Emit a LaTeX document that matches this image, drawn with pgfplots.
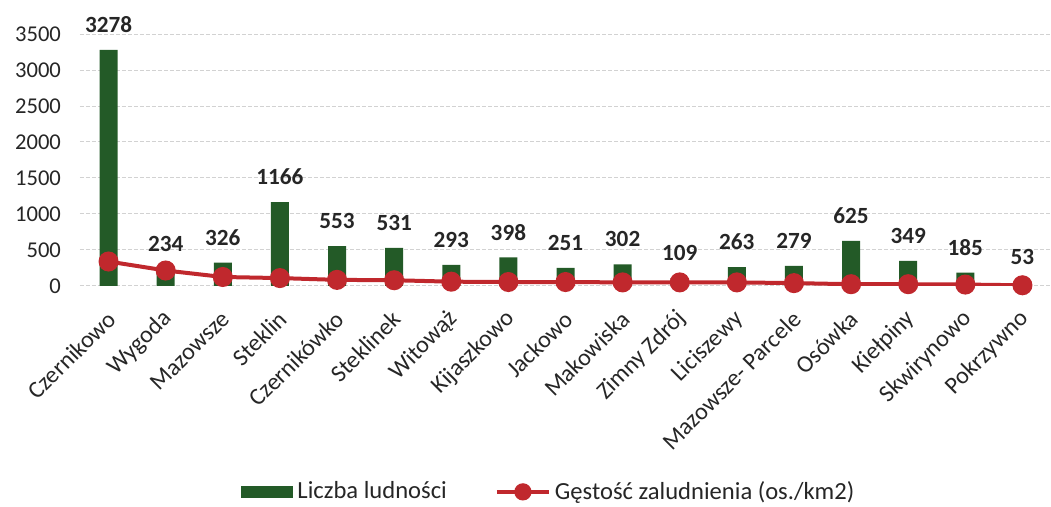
\documentclass[border=0pt]{standalone}
\usepackage{fontspec}
\setmainfont{Carlito}
\usepackage{pgfplots}
\pgfplotsset{compat=1.18}
\definecolor{barg}{HTML}{235A27}
\definecolor{liner}{HTML}{C0282D}
\definecolor{txt}{HTML}{262626}
\begin{document}
\begin{tikzpicture}
\path[use as bounding box] (-40pt,-110.5pt) rectangle (485.5pt,143pt);
\begin{axis}[
  at={(0,0)}, anchor=south west,
  scale only axis, width=485.5pt, height=126pt,
  xmin=-0.5, xmax=16.5, ymin=0, ymax=3500,
  ytick={0,500,...,3500},
  xtick={0,...,16},
  xticklabels={Czernikowo,Wygoda,Mazowsze,Steklin,Czernikówko,Steklinek,Witowąż,Kijaszkowo,Jackowo,Makowiska,Zimny Zdrój,Liciszewy,Mazowsze- Parcele,Osówka,Kiełpiny,Skwirynowo,Pokrzywno},
  axis line style={draw=none},
  major tick length=0pt,
  ymajorgrids, grid style={gray!35, dash pattern=on 2pt off 1pt, line width=0.5pt},
  yticklabel style={font=\fontsize{11.3}{13}\selectfont, text=txt, xshift=-6pt},
  /pgf/number format/assume math mode=true,
  /pgf/number format/1000 sep={},
  xticklabel style={font=\fontsize{12}{14}\selectfont, text=txt, xshift=1.5pt, yshift=-14.5pt, rotate=45, anchor=east, inner sep=0pt},
  legend style={draw=none, legend columns=2, at={(0.484,-0.817)}, anchor=center,
     font=\fontsize{12.3}{14}\selectfont, text=txt,
     /tikz/every even column/.append style={column sep=22pt},
     inner sep=0pt, cells={anchor=west}},
]
\addplot[ybar, bar width=9pt, fill=barg, draw=none,
  nodes near coords,
  every node near coord/.append style={font=\fontsize{11.6}{13}\bfseries, text=txt, anchor=center, yshift=12.5pt},
  legend image code/.code={\fill[barg] (0pt,-3pt) rectangle (26pt,3pt);}]
  coordinates {(0,3278)(1,234)(2,326)(3,1166)(4,553)(5,531)(6,293)(7,398)(8,251)(9,302)(10,109)(11,263)(12,279)(13,625)(14,349)(15,185)(16,53)};
\addlegendentry{Liczba ludności}
\addplot[liner, line width=2pt, mark=*, mark size=4pt, mark options={fill=liner, draw=liner},
  legend image code/.code={\draw[liner, line width=2pt] (0pt,0pt) -- (26pt,0pt); \fill[liner] (13pt,0pt) circle (3.3pt);}]
  coordinates {(0,340)(1,215)(2,125)(3,110)(4,85)(5,80)(6,60)(7,55)(8,55)(9,50)(10,50)(11,50)(12,40)(13,25)(14,25)(15,20)(16,10)};
\addlegendentry{Gęstość zaludnienia (os./km2)}
\end{axis}
\end{tikzpicture}
\end{document}
